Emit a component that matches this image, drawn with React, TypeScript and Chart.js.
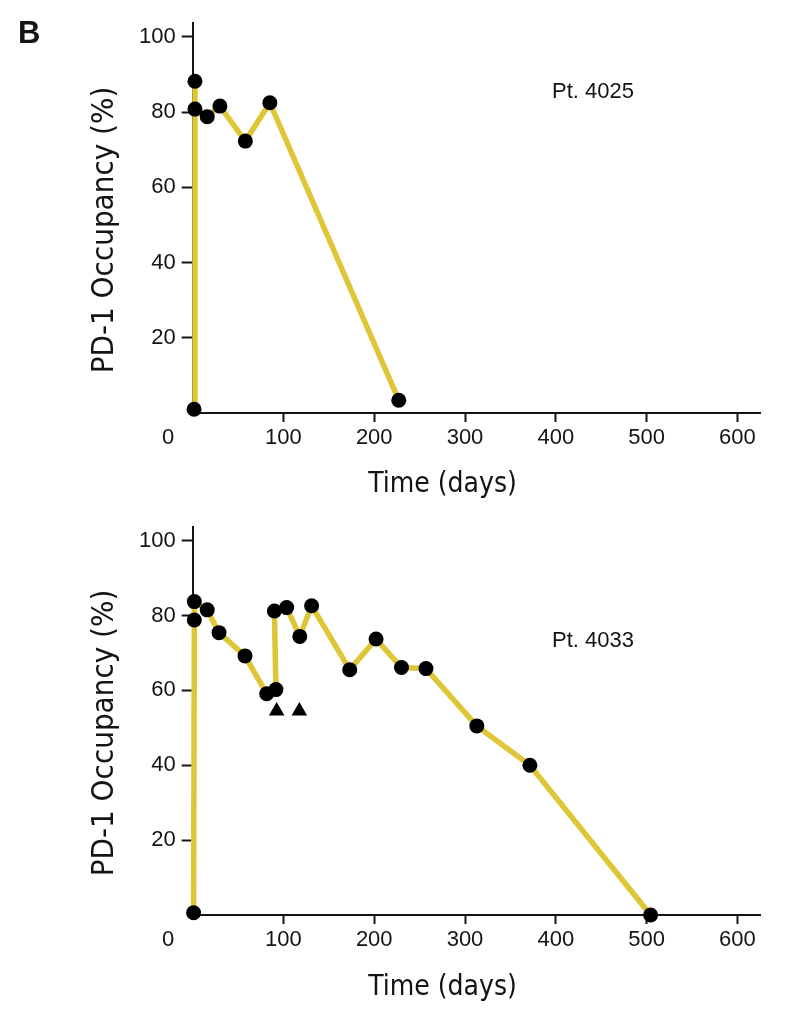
import React, { useEffect, useRef } from "react";
import { Chart, registerables } from "chart.js";

Chart.register(...registerables);

// ---- Data ----
const days4025 = [1.5, 2.5, 2.5, 16, 30, 58, 85, 227];
const occ4025 = [1, 88.2, 80.8, 78.8, 81.6, 72.3, 82.5, 3.4];

const days4033 = [1, 1.8, 1.8, 16, 29, 57.6, 81.5, 91.7, 90, 103.5, 118, 131, 173, 202, 230, 257, 313, 371.5, 504.5];
const occ4033 = [0.6, 78.8, 83.7, 81.5, 75.4, 69.2, 59.1, 60.2, 81.2, 82.1, 74.4, 82.6, 65.5, 73.7, 66.1, 65.8, 50.5, 40.0, 0];

const triangleDays4033 = [92.5, 117.5];
const triangleOcc4033 = [54.5, 54.5];

const xTicks = [0, 100, 200, 300, 400, 500, 600];
const yTicks = [0, 20, 40, 60, 80, 100];

const xTitle = "Time (days)";
const yTitle = "PD-1 Occupancy (%)";

const YELLOW = "#DFC636";
const INK = "#141414";
const TICK_FONT = "'Liberation Sans', Arial, sans-serif";
const TITLE_FONT = "'Liberation Sans Narrow', 'DejaVu Sans Condensed', 'Liberation Sans', sans-serif";

type Overlay = {
  label: string;
  labelX: number;
  labelY: number;
  yTitleX: number;
  yTitleY: number;
  xTitleX: number;
  xTitleY: number;
  panel?: string;
};

function toPoints(xs: number[], ys: number[]) {
  return xs.map((x, i) => ({ x, y: ys[i] }));
}

function buildConfig(
  days: number[],
  occ: number[],
  triDays: number[] | null,
  triOcc: number[] | null,
  padTop: number,
  xHeight: number,
  ov: Overlay
): any {
  const datasets: any[] = [
    {
      type: "line",
      data: toPoints(days, occ),
      borderColor: YELLOW,
      borderWidth: 5.5,
      tension: 0,
      pointRadius: 7.5,
      pointBackgroundColor: "#000",
      pointBorderWidth: 0,
      clip: false,
      order: 2,
    },
  ];
  if (triDays && triOcc) {
    datasets.push({
      type: "scatter",
      data: toPoints(triDays, triOcc),
      pointStyle: "triangle",
      pointRadius: 9,
      pointBackgroundColor: "#000",
      pointBorderWidth: 0,
      showLine: false,
      clip: false,
      order: 1,
    });
  }

  const overlay = {
    id: "overlay",
    afterDraw(chart: any) {
      const ctx = chart.ctx;
      const xs = chart.scales.x;
      ctx.save();
      ctx.fillStyle = INK;
      // "0" label offset to the left of the origin
      ctx.font = `22px ${TICK_FONT}`;
      ctx.textAlign = "center";
      ctx.textBaseline = "middle";
      ctx.fillText(String(xTicks[0]), 168, xs.top + 25.3);
      // patient label
      ctx.font = `22px ${TICK_FONT}`;
      ctx.textAlign = "left";
      ctx.textBaseline = "alphabetic";
      ctx.fillText(ov.label, ov.labelX, ov.labelY);
      // x title
      ctx.font = `28px ${TITLE_FONT}`;
      ctx.textAlign = "center";
      ctx.fillText(xTitle, ov.xTitleX, ov.xTitleY);
      // y title
      ctx.font = `31px ${TITLE_FONT}`;
      ctx.save();
      ctx.translate(ov.yTitleX, ov.yTitleY);
      ctx.rotate(-Math.PI / 2);
      ctx.fillText(yTitle, 0, 0);
      ctx.restore();
      if (ov.panel) {
        ctx.font = `bold 31px ${TICK_FONT}`;
        ctx.textAlign = "left";
        ctx.fillText(ov.panel, 18, 43);
      }
      ctx.restore();
    },
  };

  return {
    type: "line",
    data: { datasets },
    plugins: [overlay],
    options: {
      responsive: false,
      animation: false,
      events: [],
      layout: { padding: { top: padTop, right: 34, bottom: 0, left: 0 } },
      plugins: { legend: { display: false }, tooltip: { enabled: false } },
      scales: {
        x: {
          type: "linear",
          min: 0,
          max: 625,
          afterFit: (s: any) => {
            s.height = xHeight;
          },
          border: { display: true, color: INK, width: 2 },
          grid: {
            display: true,
            drawOnChartArea: false,
            drawTicks: true,
            tickLength: 9,
            tickWidth: 2,
            tickColor: (c: any) => (c.tick && c.tick.value === 0 ? "rgba(0,0,0,0)" : INK),
          },
          afterBuildTicks: (s: any) => {
            s.ticks = xTicks.map((v) => ({ value: v }));
          },
          ticks: {
            autoSkip: false,
            maxRotation: 0,
            padding: 3,
            color: INK,
            font: { family: TICK_FONT, size: 22 },
            callback: (v: any) => (v === 0 ? "" : String(v)),
          },
        },
        y: {
          type: "linear",
          min: 0,
          max: 103.7,
          afterFit: (s: any) => {
            s.width = 192.7;
          },
          border: { display: true, color: INK, width: 2 },
          grid: {
            display: true,
            drawOnChartArea: false,
            drawTicks: true,
            tickLength: 11,
            tickWidth: 2,
            tickColor: (c: any) => (c.tick && c.tick.value === 0 ? "rgba(0,0,0,0)" : INK),
          },
          afterBuildTicks: (s: any) => {
            s.ticks = yTicks.map((v) => ({ value: v }));
          },
          ticks: {
            autoSkip: false,
            padding: 6,
            color: INK,
            font: { family: TICK_FONT, size: 22 },
            callback: (v: any) => (v === 0 ? "" : String(v)),
          },
        },
      },
    },
  };
}

function Panel(props: { config: any; top: number; height: number }) {
  const ref = useRef<HTMLCanvasElement | null>(null);
  useEffect(() => {
    if (!ref.current) return;
    const chart = new Chart(ref.current, props.config);
    return () => chart.destroy();
  }, []);
  return (
    <canvas
      ref={ref}
      width={794}
      height={props.height}
      style={{ position: "absolute", left: 0, top: props.top, width: 794, height: props.height }}
    />
  );
}

export default function App() {
  const topCfg = buildConfig(days4025, occ4025, null, null, 23, 92, {
    label: "Pt. 4025",
    labelX: 552,
    labelY: 98.3,
    yTitleX: 113,
    yTitleY: 230,
    xTitleX: 442.5,
    xTitleY: 492,
    panel: "B",
  });
  const botCfg = buildConfig(days4033, occ4033, triangleDays4033, triangleOcc4033, 21.7, 98, {
    label: "Pt. 4033",
    labelX: 552,
    labelY: 141.7,
    yTitleX: 113,
    yTitleY: 228,
    xTitleX: 442.5,
    xTitleY: 490,
  });
  return (
    <div style={{ position: "absolute", left: 0, top: 0, width: 794, height: 1013, background: "#fff" }}>
      <Panel config={topCfg} top={0} height={505} />
      <Panel config={botCfg} top={505} height={508} />
    </div>
  );
}
